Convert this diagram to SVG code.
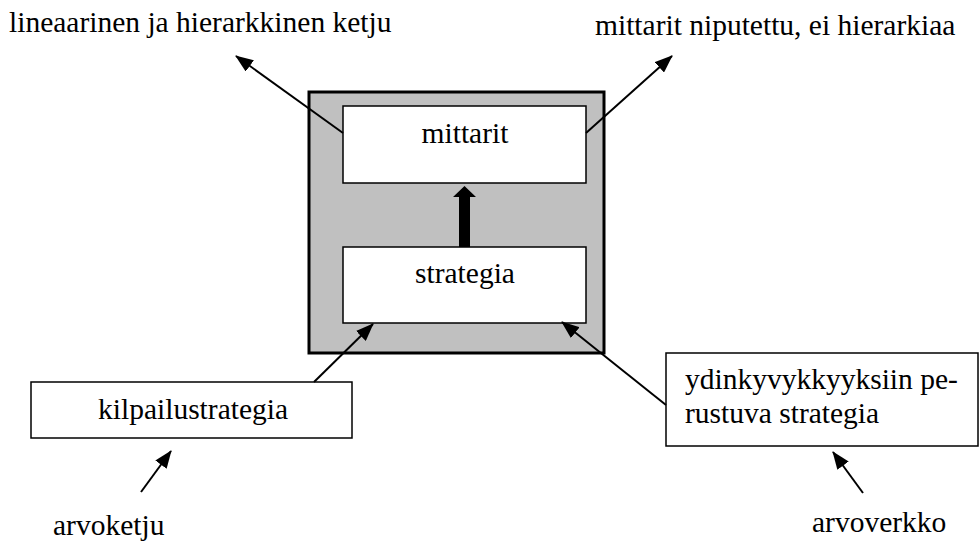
<svg xmlns="http://www.w3.org/2000/svg" width="979" height="543" viewBox="0 0 979 543">
  <style>
    .lbl { font-family: 'Liberation Serif', serif; font-size: 29.5px; fill: #000; }
    .box { fill: #fff; stroke: #000; stroke-width: 1.5; }
    .frame { fill: #c0c0c0; stroke: #000; stroke-width: 3; }
    .conn { stroke: #000; stroke-width: 2; fill: none; }
  </style>
  <defs>
    <marker id="head" markerUnits="userSpaceOnUse" markerWidth="18" markerHeight="14" refX="17" refY="7" orient="auto">
      <path d="M0,0 L18,7 L0,14 Z" fill="#000"/>
    </marker>
  </defs>

  <rect width="979" height="543" fill="#fff"/>

  <!-- grey frame holding the core pair -->
  <g id="frame">
    <rect class="frame" x="309" y="92" width="295" height="261"/>
  </g>

  <g id="mittarit">
    <rect class="box" x="343" y="106" width="243" height="77"/>
    <text class="lbl" font-family="Liberation Serif" x="465" y="143" text-anchor="middle">mittarit</text>
  </g>

  <g id="strategia">
    <rect class="box" x="343" y="247" width="243" height="76"/>
    <text class="lbl" font-family="Liberation Serif" x="465" y="283" text-anchor="middle">strategia</text>
  </g>

  <g id="kilpailustrategia">
    <rect class="box" x="31" y="382" width="321" height="56"/>
    <text class="lbl" font-family="Liberation Serif" x="98" y="419">kilpailustrategia</text>
  </g>

  <g id="ydinkyvykkyys">
    <rect class="box" x="666" y="353" width="312" height="93"/>
    <text class="lbl" font-family="Liberation Serif" x="685" y="389">ydinkyvykkyyksiin pe-</text>
    <text class="lbl" font-family="Liberation Serif" x="685" y="423">rustuva strategia</text>
  </g>

  <g id="hierarkia">
    <text class="lbl" font-family="Liberation Serif" x="9" y="32">lineaarinen ja hierarkkinen ketju</text>
  </g>

  <g id="niputus">
    <text class="lbl" font-family="Liberation Serif" x="595" y="35">mittarit niputettu, ei hierarkiaa</text>
  </g>

  <g id="arvoketju">
    <text class="lbl" font-family="Liberation Serif" x="53" y="535">arvoketju</text>
  </g>

  <g id="arvoverkko">
    <text class="lbl" font-family="Liberation Serif" x="812" y="532">arvoverkko</text>
  </g>

  <g id="connectors">
    <line class="conn" x1="343" y1="133" x2="236" y2="56" marker-end="url(#head)"/>
    <line class="conn" x1="586" y1="133" x2="672" y2="56" marker-end="url(#head)"/>
    <line class="conn" x1="314" y1="382" x2="373" y2="324" marker-end="url(#head)"/>
    <line class="conn" x1="666" y1="405" x2="562" y2="322" marker-end="url(#head)"/>
    <line class="conn" x1="141" y1="492" x2="171" y2="451" marker-end="url(#head)"/>
    <line class="conn" x1="863" y1="493" x2="833" y2="452" marker-end="url(#head)"/>
    <!-- thick block arrow from strategia up to mittarit -->
    <path d="M459,247 L459,197 L453,197 L464.5,186 L476,197 L470,197 L470,247 Z" fill="#000"/>
  </g>
</svg>
